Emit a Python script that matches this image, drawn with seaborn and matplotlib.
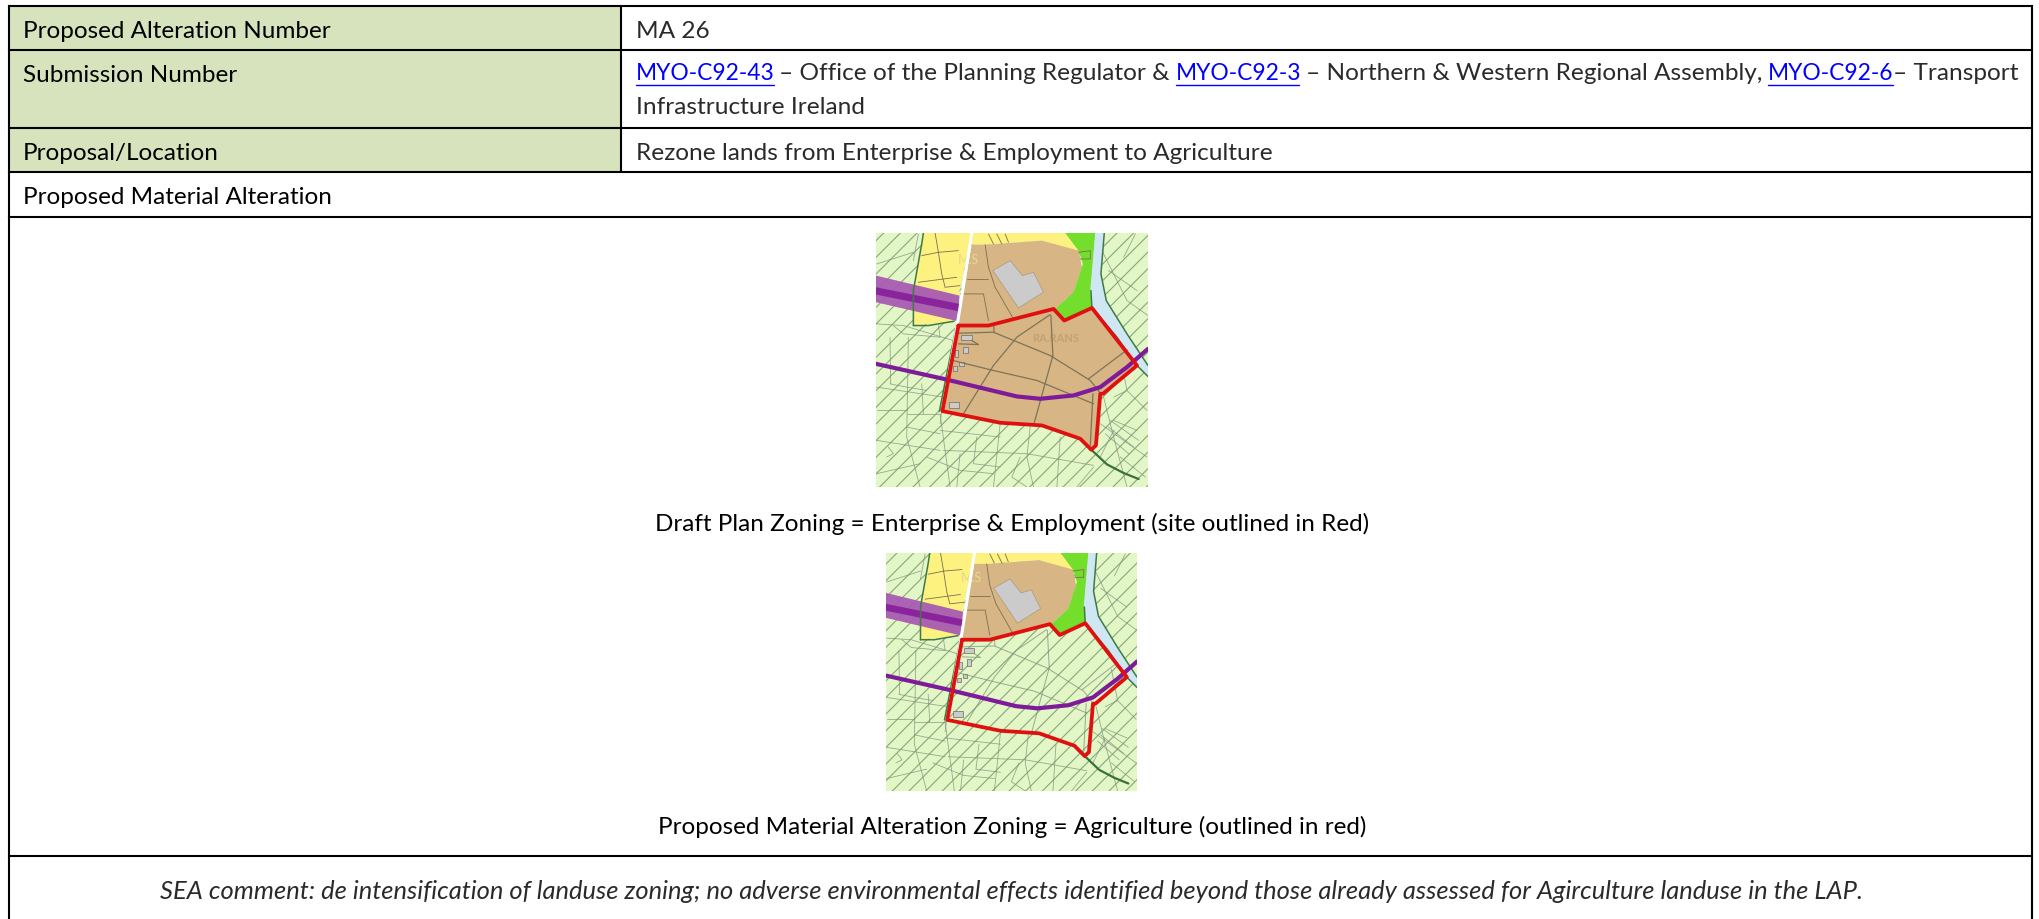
# Planning alteration sheet MA 26: table layout with the two zoning maps

import matplotlib
matplotlib.use("Agg")
import matplotlib.pyplot as plt
from matplotlib.patches import Polygon, Rectangle
import pandas as pd
import seaborn as sns

# --- Table text ---
ROW_LABELS = ["Proposed Alteration Number", "Submission Number", "Proposal/Location"]
ROW_VALUES = ["MA 26", "Infrastructure Ireland", "Rezone lands from Enterprise & Employment to Agriculture"]
SECTION_TITLE = "Proposed Material Alteration"
LINKS = ["MYO-C92-43", "MYO-C92-3", "MYO-C92-6"]
LINK_TAILS = ["– Office of the Planning Regulator &", "– Northern & Western Regional Assembly,", "– Transport"]
CAPTION_DRAFT = "Draft Plan Zoning = Enterprise & Employment (site outlined in Red)"
CAPTION_PROPOSED = "Proposed Material Alteration Zoning = Agriculture (outlined in red)"
SEA_COMMENT = ("SEA comment: de intensification of landuse zoning; no adverse environmental effects "
               "identified beyond those already assessed for Agirculture landuse in the LAP.")

# --- Map shapes ---
yellow_zone = [(190, 27), (335, 27), (295, 215), (282, 292), (205, 300), (160, 305), (160, 200), (185, 60)]
yellow_top = [(335, 27), (615, 27), (660, 85), (545, 50), (380, 62), (333, 62)]
brown_top = [(335, 62), (380, 62), (545, 50), (655, 80), (665, 130), (640, 205), (585, 255), (400, 300), (292, 305)]
lime_zone = [(615, 27), (705, 27), (692, 200), (695, 252), (615, 290), (585, 255), (640, 205), (668, 120), (655, 80)]
river = [(705, 27), (732, 27), (722, 150), (738, 230), (800, 330), (863, 425), (863, 458),
         (825, 420), (770, 340), (695, 252), (690, 200)]
site = [(295, 305), (385, 305), (580, 255), (612, 290), (695, 252), (830, 425), (728, 510), (720, 510),
        (707, 665), (693, 678), (660, 645), (545, 605), (420, 597), (247, 562)]
band_light = [(48, 155), (298, 215), (293, 292), (48, 235)]
band_dark = [(48, 190), (298, 240), (295, 262), (48, 212)]
big_building = [(398, 140), (450, 110), (487, 155), (520, 145), (550, 205), (475, 252)]
small_buildings = [
    [(302, 333), (335, 333), (335, 348), (302, 348)],
    [(310, 368), (323, 368), (323, 388), (310, 388)],
    [(285, 378), (295, 378), (295, 398), (285, 398)],
    [(298, 415), (312, 415), (312, 428), (298, 428)],
    [(280, 428), (292, 428), (292, 442), (280, 442)],
    [(266, 535), (298, 535), (298, 552), (266, 552)],
]
purple_road = [(48, 420), (250, 465), (470, 518), (540, 525), (640, 515), (720, 490), (800, 430), (863, 375)]
white_road = [(335, 27), (300, 250), (248, 562)]
road_edge = [(290, 300), (262, 440), (238, 562)]
river_edge_left = [(692, 200), (695, 252), (770, 340), (825, 420), (863, 458)]
river_edge_right = [(732, 27), (722, 150), (738, 230), (800, 330), (863, 425)]
green_edge = [(160, 305), (160, 200), (185, 60), (190, 27)]
green_base = [(160, 305), (205, 305), (282, 292)]
tail = [(693, 678), (740, 722), (790, 748), (835, 766)]
site_lines = [
    [(295, 328), (400, 325), (570, 395), (690, 470), (722, 510)],
    [(570, 272), (470, 340), (400, 425), (310, 570)],
    [(578, 395), (520, 605)],
    [(572, 275), (578, 395)],
    [(270, 408), (400, 440), (530, 470), (700, 540)],
    [(800, 378), (685, 465)],
    [(698, 510), (690, 665)],
    [(400, 300), (402, 325)],
    [(335, 350), (355, 362), (295, 360)],
]
top_lines = [
    [(375, 62), (385, 130), (405, 190), (460, 285)],
    [(300, 210), (370, 210), (385, 290)],
    [(320, 165), (385, 165)],
    [(185, 95), (235, 85), (295, 80)],
    [(175, 175), (290, 160)],
    [(235, 85), (245, 150), (255, 190), (300, 185)],
    [(225, 27), (235, 85)],
    [(655, 85), (690, 80), (690, 105), (660, 105)],
    [(385, 30), (400, 60)],
    [(410, 30), (425, 60)],
    [(435, 30), (445, 55)],
]
parcel_lines = [
    [(50, 300), (130, 305), (280, 350)],
    [(90, 340), (92, 480)],
    [(50, 490), (250, 520), (240, 600)],
    [(145, 340), (140, 640), (180, 790)],
    [(50, 650), (240, 680)],
    [(140, 570), (240, 570)],
    [(50, 120), (160, 85)],
    [(175, 30), (160, 110)],
    [(240, 340), (235, 305)],
    [(725, 80), (760, 150), (800, 230), (863, 275)],
    [(745, 140), (830, 200)],
    [(790, 100), (825, 30)],
    [(250, 680), (500, 690), (700, 725)],
    [(240, 570), (270, 790)],
    [(420, 600), (400, 790)],
    [(510, 610), (500, 700), (520, 790)],
    [(720, 600), (860, 700)],
    [(750, 590), (835, 650)],
    [(760, 620), (720, 700)],
    [(730, 520), (760, 640), (800, 790)],
    [(800, 500), (760, 520)],
    [(50, 560), (140, 560)],
    [(240, 620), (420, 640)],
    [(600, 640), (590, 790)],
    [(700, 730), (650, 790)],
    [(90, 480), (140, 490), (200, 500)],
    [(185, 480), (190, 570)],
    [(85, 670), (100, 690), (80, 700)],
    [(140, 610), (240, 630)],
    [(300, 690), (290, 790)],
    [(350, 640), (340, 720), (420, 730)],
    [(480, 700), (455, 760), (500, 790)],
    [(200, 700), (300, 740), (400, 750)],
    [(760, 590), (830, 620)],
    [(745, 610), (820, 670)],
    [(735, 630), (805, 690)],
    [(780, 700), (855, 760)],
    [(50, 750), (180, 720)],
    [(780, 400), (800, 500), (860, 560)],
    [(100, 305), (130, 330), (240, 340)],
]

sns.set_theme(style="white")
plt.rcParams["font.family"] = ["Lato", "DejaVu Sans"]
plt.rcParams["hatch.linewidth"] = 0.8

GREEN_CELL = "#D6E3BC"
LINK_BLUE = "#0000FF"
HATCH_GREEN = "#86A87D"
LABEL_SIZE = 17.5
VALUE_SIZE = 17.6
LINK_SIZE = 16.4
SEA_SIZE = 18.4
VALUE_COLOR = "#2a2a2a"


def lines_frame(polylines):
    rows = []
    for i, line in enumerate(polylines):
        for x, y in line:
            rows.append({"id": i, "x": x, "y": y})
    return pd.DataFrame(rows)


def draw_lines(ax, polylines, color, lw, z=5, alpha=1.0):
    before = len(ax.lines)
    sns.lineplot(data=lines_frame(polylines), x="x", y="y", units="id", estimator=None, sort=False,
                 color=color, linewidth=lw, alpha=alpha, ax=ax, legend=False)
    for line in ax.lines[before:]:
        line.set_zorder(z)
        line.set_solid_joinstyle("round")


def draw_map(box, rezoned):
    x0, y0, x1, y1 = box
    ax = fig.add_axes([x0 / 2040, 1 - y1 / 920, (x1 - x0) / 2040, (y1 - y0) / 920])
    ax.set_xlim(48, 863)
    ax.set_ylim(790, 27)
    ax.axis("off")
    ax.add_patch(Rectangle((48, 27), 815, 763, facecolor="#E3F6C6", edgecolor=HATCH_GREEN, lw=0,
                           hatch="//", zorder=0))
    draw_lines(ax, parcel_lines, "#7f8f7a", 0.6, z=1, alpha=0.75)
    ax.add_patch(Polygon(yellow_zone, facecolor="#FDF17F", edgecolor="none", zorder=2))
    ax.add_patch(Polygon(yellow_top, facecolor="#FDF17F", edgecolor="none", zorder=2))
    ax.add_patch(Polygon(brown_top, facecolor="#D7B584", edgecolor="none", zorder=2))
    ax.add_patch(Polygon(lime_zone, facecolor="#73DE2C", edgecolor="none", zorder=2))
    ax.add_patch(Polygon(river, facecolor="#CFE7F2", edgecolor="none", zorder=2))
    if not rezoned:
        ax.add_patch(Polygon(site, facecolor="#D7B584", edgecolor="none", zorder=2))
    ax.add_patch(Polygon(band_light, facecolor="#A85BB2", edgecolor="none", alpha=0.95, zorder=3))
    ax.add_patch(Polygon(band_dark, facecolor="#8A249C", edgecolor="none", zorder=3))
    ax.add_patch(Polygon(big_building, facecolor="#CBCBCB", edgecolor="#a89a80", lw=0.5, zorder=3))
    for b in small_buildings:
        ax.add_patch(Polygon(b, facecolor="#CBCBCB", edgecolor="#6d6d5f", lw=0.5, zorder=3))
    ax.text(325, 105, "M.S", color="#e6d98a", fontsize=9, ha="center", va="center", zorder=4)
    if not rezoned:
        ax.text(585, 342, "RA.RANS", color="#c2a272", fontsize=8, fontweight="bold", ha="center", va="center", zorder=4)
    draw_lines(ax, top_lines, "#7a6f52", 0.6)
    if rezoned:
        draw_lines(ax, site_lines, "#7f8f7a", 0.7, alpha=0.75)
    else:
        draw_lines(ax, site_lines, "#7d7458", 0.9)
    draw_lines(ax, [road_edge, river_edge_left, river_edge_right, green_edge, green_base], "#3f7a45", 1.1)
    draw_lines(ax, [tail], "#3d7038", 1.6)
    draw_lines(ax, [white_road], "white", 2.2)
    draw_lines(ax, [purple_road], "#7D1B9B", 3.0, z=6)
    draw_lines(ax, [site + site[:1]], "#E01010", 2.7, z=6)
    ax.set_xlabel("")
    ax.set_ylabel("")


fig = plt.figure(figsize=(20.4, 9.2), dpi=100, facecolor="white")
page = fig.add_axes([0, 0, 1, 1])
page.set_xlim(0, 2040)
page.set_ylim(920, 0)
page.axis("off")

# --- Table grid ---
LEFT, MID, RIGHT = 9, 621, 2032
ROW_Y = [7, 51, 129, 173, 218, 857]
for top, bottom in zip(ROW_Y[:3], ROW_Y[1:4]):
    page.add_patch(Rectangle((LEFT, top), MID - LEFT, bottom - top, facecolor=GREEN_CELL, edgecolor="none"))
for y in ROW_Y:
    page.plot([LEFT, RIGHT], [y, y], color="black", lw=1.5, solid_capstyle="projecting")
page.plot([LEFT, LEFT], [ROW_Y[0], 920], color="black", lw=1.5)
page.plot([RIGHT, RIGHT], [ROW_Y[0], 920], color="black", lw=1.5)
page.plot([MID, MID], [ROW_Y[0], ROW_Y[3]], color="black", lw=1.5)

# --- Table text ---
for label, y in zip(ROW_LABELS + [SECTION_TITLE], [32, 75, 153, 198]):
    page.text(23, y, label, fontsize=LABEL_SIZE, color="black", va="center")
for value, y in zip(ROW_VALUES, [32, 108, 153]):
    page.text(636, y, value, fontsize=VALUE_SIZE, color=VALUE_COLOR, va="center")

for name, x0, x1 in zip(LINKS, [636, 1176, 1768], [774, 1299, 1893]):
    page.text(x0, 74, name, fontsize=LINK_SIZE, color=LINK_BLUE, va="center")
    page.plot([x0, x1], [86, 86], color=LINK_BLUE, lw=1.0)
for tail_text, x0 in zip(LINK_TAILS, [779, 1306, 1893]):
    page.text(x0, 74, tail_text, fontsize=VALUE_SIZE, color=VALUE_COLOR, va="center")

page.text(1012, 524, CAPTION_DRAFT, fontsize=LABEL_SIZE, color="black", ha="center", va="center")
page.text(1012, 827, CAPTION_PROPOSED, fontsize=LABEL_SIZE, color="black", ha="center", va="center")
page.text(1012, 892, SEA_COMMENT, fontsize=SEA_SIZE, style="italic",
          color=VALUE_COLOR, ha="center", va="center")

# --- Zoning maps ---
draw_map((876, 234, 1148, 488), False)
draw_map((886, 554, 1137, 792), True)

fig.savefig("out.png", dpi=100)
